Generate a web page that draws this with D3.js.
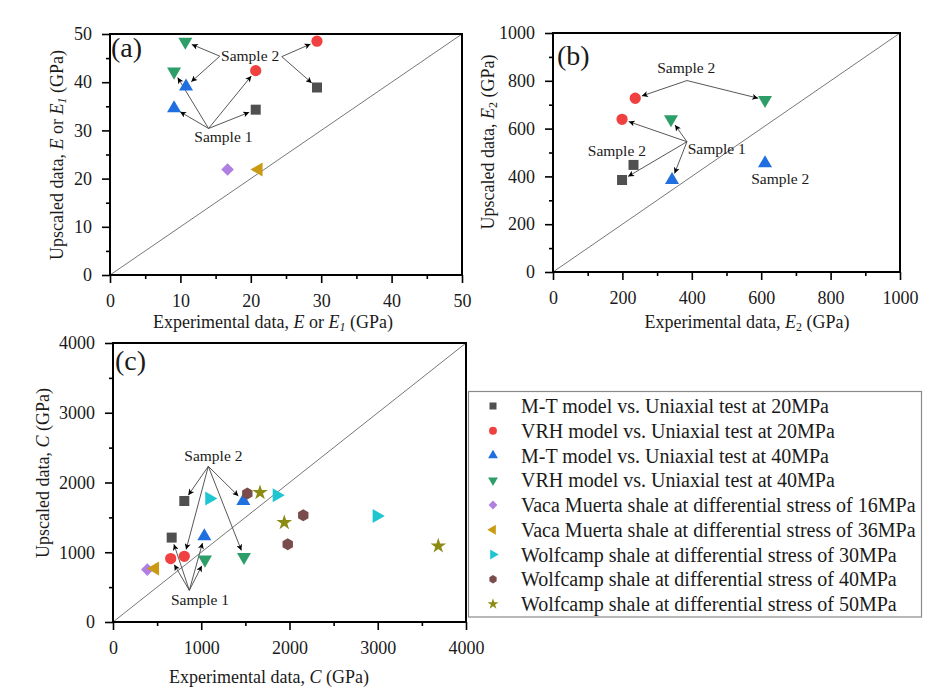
<!DOCTYPE html>
<html>
<head>
<meta charset="utf-8">
<script src="https://cdn.jsdelivr.net/npm/d3@7"></script>
<style>
  body { margin: 0; background: #fff; }
  svg text { font-family: "Liberation Serif", "Times New Roman", serif; fill: #1a1a1a; }
</style>
</head>
<body>
<svg id="chart" width="931" height="697"></svg>
<script>
// ---- legend / series ----
const seriesNames = [
  "M-T model vs. Uniaxial test at 20MPa",
  "VRH model vs. Uniaxial test at 20MPa",
  "M-T model vs. Uniaxial test at 40MPa",
  "VRH model vs. Uniaxial test at 40MPa",
  "Vaca Muerta shale at differential stress of 16MPa",
  "Vaca Muerta shale at differential stress of 36MPa",
  "Wolfcamp shale at differential stress of 30MPa",
  "Wolfcamp shale at differential stress of 40MPa",
  "Wolfcamp shale at differential stress of 50MPa"
];
const seriesColors = ["#505050", "#f04040", "#1f6fe0", "#2e9e68", "#b07fe2", "#c99a12", "#1fc6d2", "#7a4c4b", "#8b8a12"];
const seriesShapes = ["square", "circle", "up", "down", "diamond", "left", "right", "hexagon", "star"];

// ---- panel (a): [experimental, upscaled] E or E1 (GPa) ----
const aMT20  = [[20.7, 34.3], [29.4, 38.9]];
const aVRH20 = [[20.7, 42.4], [29.4, 48.5]];
const aMT40  = [[9.1, 34.6], [10.8, 39.1]];
const aVRH40 = [[9.1, 42.2], [10.7, 48.4]];
const aVM16  = [[16.7, 21.9]];
const aVM36  = [[21.1, 21.9]];
const aTicks = [0, 10, 20, 30, 40, 50];
const aMinor = [5, 15, 25, 35, 45];

// ---- panel (b): E2 (GPa) ----
const bMT20  = [[199, 385], [232, 448]];
const bVRH20 = [[199, 639], [237, 727]];
const bMT40  = [[343, 385], [611, 455]];
const bVRH40 = [[340, 639], [611, 720]];
const bTicks = [0, 200, 400, 600, 800, 1000];
const bMinor = [100, 300, 500, 700, 900];

// ---- panel (c): C (GPa) ----
const cMT20  = [[665, 1210], [808, 1735]];
const cVRH20 = [[654, 909], [808, 942]];
const cMT40  = [[1035, 1229], [1477, 1735]];
const cVRH40 = [[1042, 895], [1484, 932]];
const cVM16  = [[389, 751]];
const cVM36  = [[476, 766]];
const cWC30  = [[1091, 1769], [1855, 1817], [2988, 1520]];
const cWC40  = [[1522, 1841], [2156, 1530], [1980, 1114]];
const cWC50  = [[1666, 1855], [1941, 1425], [3686, 1090]];
const cTicks = [0, 1000, 2000, 3000, 4000];
const cMinor = [500, 1500, 2500, 3500];

// annotation anchors (data units)
const aSample2Text = [19.9, 45.6], aSample2L = [15.6, 45.4], aSample2R = [24.4, 45.3];
const aSample1Text = [16.1, 28.7], aSample1J = [14.0, 30.4];
const bSample2Text = [384, 857], bSample2J = [386, 801];
const bSample1Text = [388, 518], bSample1J = [386, 545];
const bSample2Mid = [184, 510], bSample2Low = [655, 389];
const cSample2Text = [1137, 2390], cSample2J = [1080, 2232];
const cSample1Text = [986, 321], cSample1J = [865, 454];

const svg = d3.select("#chart");
const FONT = '"Liberation Serif", "Times New Roman", serif';

svg.append("defs").append("marker")
  .attr("id", "arr")
  .attr("viewBox", "0 0 10 10")
  .attr("refX", 10).attr("refY", 5)
  .attr("markerWidth", 10).attr("markerHeight", 6)
  .attr("markerUnits", "userSpaceOnUse")
  .attr("orient", "auto")
  .append("path")
  .attr("d", "M0,0 L10,5 L0,10 L2.5,5 Z")
  .attr("fill", "#000");

function shapePath(shape, s) {
  // s = overall scale (1 = plot size)
  if (shape === "square") return d3.symbol(d3.symbolSquare, 100 * s * s)();
  if (shape === "circle") return d3.symbol(d3.symbolCircle, 100 * s * s)();
  if (shape === "star") return d3.symbol(d3.symbolStar, 75 * s * s)();
  if (shape === "diamond") {
    const r = 6.3 * s;
    return `M0,${-r}L${r},0L0,${r}L${-r},0Z`;
  }
  if (shape === "hexagon") {
    const r = 6 * s;
    return d3.range(6).map(i => {
      const a = Math.PI / 6 + i * Math.PI / 3;
      return (i ? "L" : "M") + (r * Math.cos(a)).toFixed(2) + "," + (r * Math.sin(a)).toFixed(2);
    }).join("") + "Z";
  }
  // triangles
  return d3.symbol(d3.symbolTriangle, 85 * s * s)();
}
function shapeRotate(shape) {
  return { down: 180, left: -90, right: 90 }[shape] || 0;
}

function drawPanel(p) {
  const x = d3.scaleLinear().domain(p.domain).range([p.left, p.right]);
  const y = d3.scaleLinear().domain(p.domain).range([p.bottom, p.top]);
  const g = svg.append("g");

  // diagonal 1:1 line
  g.append("line")
    .attr("x1", x(p.domain[0])).attr("y1", y(p.domain[0]))
    .attr("x2", x(p.domain[1])).attr("y2", y(p.domain[1]))
    .attr("stroke", "#777").attr("stroke-width", 1);

  // minor ticks
  g.append("g").attr("transform", `translate(0,${p.bottom})`)
    .call(d3.axisBottom(x).tickValues(p.minor).tickSize(4).tickFormat(""))
    .call(a => a.select(".domain").remove());
  g.append("g").attr("transform", `translate(${p.left},0)`)
    .call(d3.axisLeft(y).tickValues(p.minor).tickSize(4).tickFormat(""))
    .call(a => a.select(".domain").remove());

  // major ticks
  const xa = g.append("g").attr("transform", `translate(0,${p.bottom})`)
    .call(d3.axisBottom(x).tickValues(p.ticks).tickSize(8).tickPadding(11).tickFormat(d3.format("d")));
  const ya = g.append("g").attr("transform", `translate(${p.left},0)`)
    .call(d3.axisLeft(y).tickValues(p.ticks).tickSize(8).tickPadding(10).tickFormat(d3.format("d")));
  [xa, ya].forEach(a => {
    a.attr("font-family", null);
    a.selectAll("text").style("font-family", FONT).style("font-size", "18px").attr("fill", "#1a1a1a");
    a.select(".domain").remove();
  });
  g.selectAll(".tick line").attr("stroke", "#000").attr("stroke-width", 1.6);

  // frame
  g.append("rect")
    .attr("x", p.left).attr("y", p.top)
    .attr("width", p.right - p.left).attr("height", p.bottom - p.top)
    .attr("fill", "none").attr("stroke", "#000").attr("stroke-width", 2);

  // arrows
  p.arrows.forEach(([from, to]) => {
    const x0 = x(from[0]), y0 = y(from[1]);
    const x1 = x(to[0]), y1 = y(to[1]);
    const len = Math.hypot(x1 - x0, y1 - y0);
    const gap = 7;
    g.append("line")
      .attr("x1", x0).attr("y1", y0)
      .attr("x2", x1 - (x1 - x0) * gap / len)
      .attr("y2", y1 - (y1 - y0) * gap / len)
      .attr("stroke", "#444").attr("stroke-width", 0.9)
      .attr("marker-end", "url(#arr)");
  });

  // points
  p.series.forEach(([si, pts]) => {
    const shape = seriesShapes[si];
    g.selectAll(null).data(pts).join("path")
      .attr("d", shapePath(shape, 1))
      .attr("transform", d => `translate(${x(d[0])},${y(d[1])}) rotate(${shapeRotate(shape)})`)
      .attr("fill", seriesColors[si]);
  });

  // annotation texts
  p.notes.forEach(([txt, pos, anchor]) => {
    g.append("text")
      .attr("x", x(pos[0])).attr("y", y(pos[1]))
      .attr("dy", "0.35em")
      .attr("text-anchor", anchor || "middle")
      .attr("font-size", 15.5)
      .text(txt);
  });

  // panel label
  g.append("text")
    .attr("x", p.label[1]).attr("y", p.label[2])
    .attr("font-size", 28)
    .text(p.label[0]);

  // axis titles
  const xt = g.append("text")
    .attr("x", p.xTitlePos[0]).attr("y", p.xTitlePos[1])
    .attr("dy", "0.35em").attr("text-anchor", "middle").attr("font-size", 18);
  p.xTitle.forEach(seg => xt.append("tspan").attr("font-style", seg[1] ? "italic" : null)
    .attr("baseline-shift", seg[2] ? "-25%" : null).attr("font-size", seg[2] ? 12 : null).text(seg[0]));
  const yt = g.append("text")
    .attr("transform", `translate(${p.yTitlePos[0]},${p.yTitlePos[1]}) rotate(-90)`)
    .attr("dy", "0.35em").attr("text-anchor", "middle").attr("font-size", 18);
  p.yTitle.forEach(seg => yt.append("tspan").attr("font-style", seg[1] ? "italic" : null)
    .attr("baseline-shift", seg[2] ? "-25%" : null).attr("font-size", seg[2] ? 12 : null).text(seg[0]));
}

// panel (a)
drawPanel({
  domain: [0, 50], ticks: aTicks, minor: aMinor,
  left: 110, right: 462, top: 34, bottom: 275,
  series: [[0, aMT20], [1, aVRH20], [2, aMT40], [3, aVRH40], [4, aVM16], [5, aVM36]],
  arrows: [
    [aSample2L, aVRH40[1]], [aSample2L, aMT40[1]],
    [aSample2R, aVRH20[1]], [aSample2R, aMT20[1]],
    [aSample1J, aVRH40[0]], [aSample1J, aMT40[0]],
    [aSample1J, aVRH20[0]], [aSample1J, aMT20[0]]
  ],
  notes: [["Sample 2", aSample2Text], ["Sample 1", aSample1Text]],
  label: ["(a)", 111, 57],
  xTitle: [["Experimental data, "], ["E", true], [" or "], ["E", true], ["1", true, true], [" (GPa)"]],
  xTitlePos: [273, 322],
  yTitle: [["Upscaled data, "], ["E", true], [" or "], ["E", true], ["1", true, true], [" (GPa)"]],
  yTitlePos: [57, 155]
});

// panel (b)
drawPanel({
  domain: [0, 1000], ticks: bTicks, minor: bMinor,
  left: 553, right: 900, top: 33, bottom: 272,
  series: [[0, bMT20], [1, bVRH20], [2, bMT40], [3, bVRH40]],
  arrows: [
    [bSample2J, bVRH20[1]], [bSample2J, bVRH40[1]],
    [bSample1J, bVRH20[0]], [bSample1J, bVRH40[0]],
    [bSample1J, bMT40[0]], [bSample1J, bMT20[0]]
  ],
  notes: [["Sample 2", bSample2Text], ["Sample 1", bSample1Text, "start"],
          ["Sample 2", bSample2Mid], ["Sample 2", bSample2Low]],
  label: ["(b)", 557, 65],
  xTitle: [["Experimental data, "], ["E", true], ["2", false, true], [" (GPa)"]],
  xTitlePos: [747, 322],
  yTitle: [["Upscaled data, "], ["E", true], ["2", false, true], [" (GPa)"]],
  yTitlePos: [488, 142]
});

// panel (c)
drawPanel({
  domain: [0, 4000], ticks: cTicks, minor: cMinor,
  left: 113, right: 466, top: 343, bottom: 622,
  series: [[0, cMT20], [1, cVRH20], [2, cMT40], [3, cVRH40], [4, cVM16], [5, cVM36],
           [6, cWC30], [7, cWC40], [8, cWC50]],
  arrows: [
    [cSample2J, cMT20[1]], [cSample2J, cVRH20[1]],
    [cSample2J, cVRH40[1]], [cSample2J, cMT40[1]],
    [cSample1J, cMT20[0]], [cSample1J, cVRH20[0]],
    [cSample1J, cMT40[0]], [cSample1J, cVRH40[0]]
  ],
  notes: [["Sample 2", cSample2Text], ["Sample 1", cSample1Text]],
  label: ["(c)", 115, 370],
  xTitle: [["Experimental data, "], ["C", true], [" (GPa)"]],
  xTitlePos: [269, 677],
  yTitle: [["Upscaled data, "], ["C", true], [" (GPa)"]],
  yTitlePos: [43, 473]
});

// legend
const lg = svg.append("g");
lg.append("rect")
  .attr("x", 468.5).attr("y", 391.5).attr("width", 453).attr("height", 225.5)
  .attr("fill", "#fff").attr("stroke", "#8a8a8a").attr("stroke-width", 1.2);
const rowY = d3.scaleLinear().domain([0, 8]).range([406, 604]);
seriesNames.forEach((name, i) => {
  const shape = seriesShapes[i];
  lg.append("path")
    .attr("d", shapePath(shape, 0.7))
    .attr("transform", `translate(493,${rowY(i)}) rotate(${shapeRotate(shape)})`)
    .attr("fill", seriesColors[i]);
  lg.append("text")
    .attr("x", 521).attr("y", rowY(i)).attr("dy", "0.35em")
    .attr("font-size", 20)
    .text(name);
});
</script>
</body>
</html>
